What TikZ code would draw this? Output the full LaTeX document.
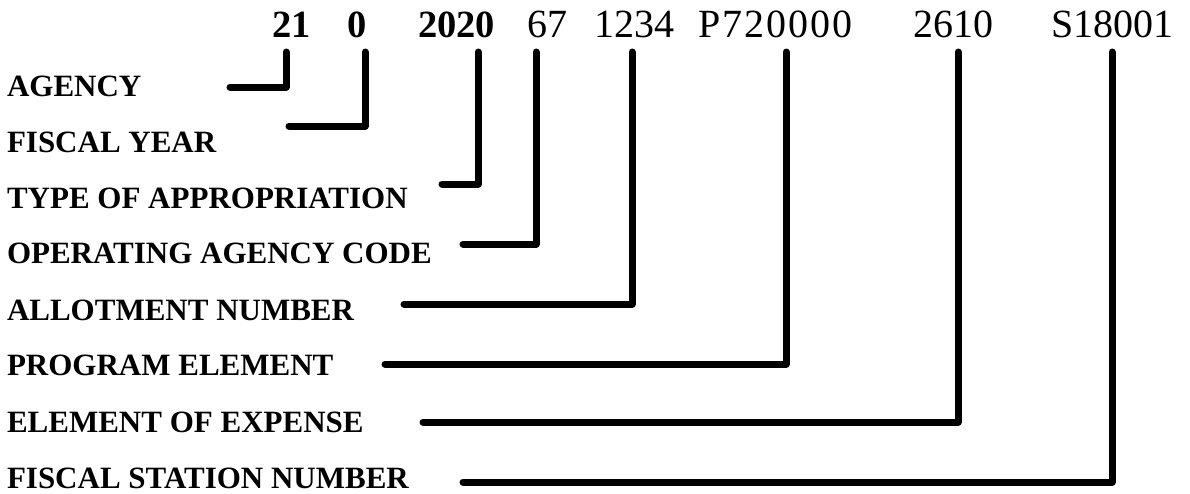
\documentclass[tikz,border=0pt]{standalone}
\usepackage{fontspec}
\setmainfont{Liberation Serif}
\tikzset{
  code/.style={font=\fontsize{40}{48}\selectfont, anchor=base west, inner sep=0pt, outer sep=0pt},
  codebold/.style={font=\fontsize{38.5}{46}\selectfont\bfseries, anchor=base west, inner sep=0pt, outer sep=0pt},
  lab/.style={font=\fontsize{31}{36}\selectfont\bfseries, anchor=base west, inner sep=0pt, outer sep=0pt},
  conn/.style={line width=7pt, line cap=round, line join=round},
}
\begin{document}
\begin{tikzpicture}[x=1pt,y=-1pt]
\useasboundingbox (0,0) rectangle (1190,493);
% code pieces
\node[codebold] (n1) at (272,37) {21};
\node[codebold] (n2) at (347,37) {0};
\node[codebold] (n3) at (418,37) {2020};
\node[code] (n4) at (527,37) {67};
\node[code] (n5) at (594,37) {1234};
\node[code] (n6) at (698,37) {\addfontfeature{LetterSpace=5}P720000};
\node[code] (n7) at (913,37) {2610};
\node[code] (n8) at (1051,37) {S18001};
% labels
\node[lab] (l1) at (7,96.5) {AGENCY};
\node[lab] (l2) at (7,152) {FISCAL YEAR};
\node[lab] (l3) at (7,208) {TYPE OF APPROPRIATION};
\node[lab] (l4) at (7,263) {OPERATING AGENCY CODE};
\node[lab] (l5) at (7,320) {ALLOTMENT NUMBER};
\node[lab] (l6) at (7,375) {PROGRAM ELEMENT};
\node[lab] (l7) at (7,432) {ELEMENT OF EXPENSE};
\node[lab] (l8) at (7,488) {FISCAL STATION NUMBER};
% connector coordinates: s = start (label side), c = corner, t = top (under code)
\coordinate (s1) at (230,87);  \coordinate (c1) at (286,87);  \coordinate (t1) at (286,52);
\coordinate (s2) at (289,126); \coordinate (c2) at (365,126); \coordinate (t2) at (365,52);
\coordinate (s3) at (442,184); \coordinate (c3) at (478,184); \coordinate (t3) at (478,52);
\coordinate (s4) at (463,244); \coordinate (c4) at (536,244); \coordinate (t4) at (536,52);
\coordinate (s5) at (404,304); \coordinate (c5) at (632,304); \coordinate (t5) at (632,52);
\coordinate (s6) at (385,364); \coordinate (c6) at (786,364); \coordinate (t6) at (786,52);
\coordinate (s7) at (423,422); \coordinate (c7) at (958,422); \coordinate (t7) at (958,52);
\coordinate (s8) at (463,482); \coordinate (c8) at (1112,482); \coordinate (t8) at (1112,52);
\foreach \i in {1,...,8} {
  \draw[conn] (s\i) -- (c\i) -- (t\i);
}
\end{tikzpicture}
\end{document}
